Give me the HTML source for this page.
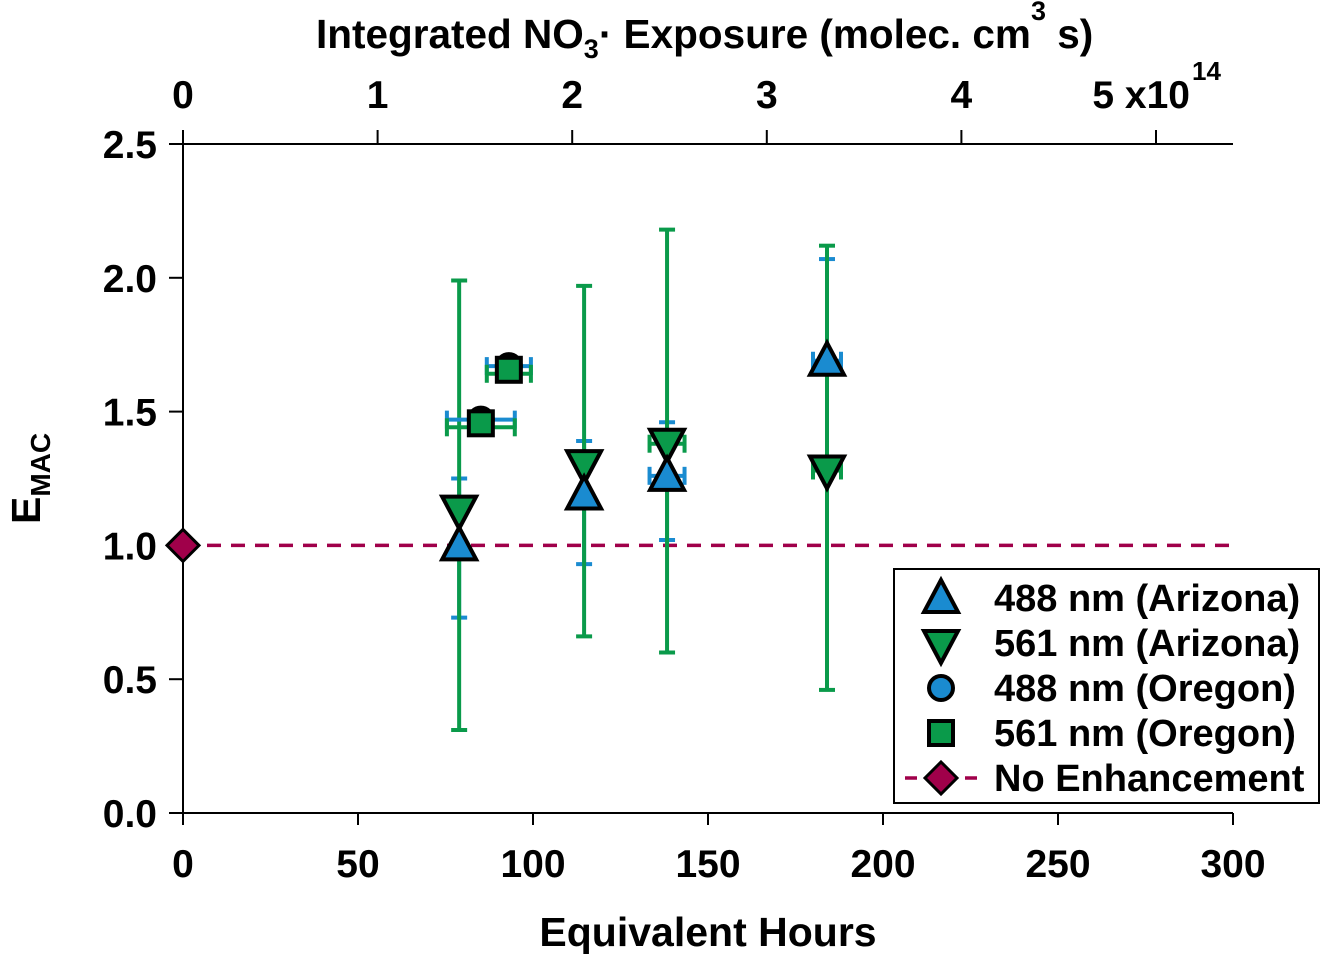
<!DOCTYPE html>
<html><head><meta charset="utf-8">
<style>
html,body{margin:0;padding:0;background:#fff;}
svg{display:block;font-family:"Liberation Sans",Arial,sans-serif;font-weight:bold;}
</style></head>
<body>
<svg id="chart" width="1321" height="954" viewBox="0 0 1321 954" xmlns="http://www.w3.org/2000/svg">
<g id="axes"></g>
<g id="marks"></g>
<g id="legend">
  <rect x="894" y="569" width="425" height="234" fill="#fff" stroke="#000" stroke-width="2"/>
</g>
</svg>
<script>
// ---- data ----
const bottomTicks = [0,50,100,150,200,250,300];
const topTicks = [0,1,2,3,4,5];
const topTickLabels = ["0","1","2","3","4","5 x10"];
const yTicks = [0,0.5,1,1.5,2,2.5];
const yTickLabels = ["0.0","0.5","1.0","1.5","2.0","2.5"];
// Arizona series
const azHours = [78.9, 114.6, 138.3, 184.0];
const az488 = [1.00, 1.19, 1.26, 1.69];
const az488Lo = [0.73, 0.93, 1.02, 1.28];
const az488Hi = [1.25, 1.39, 1.46, 2.07];
const az561 = [1.13, 1.30, 1.38, 1.28];
const az561Lo = [0.31, 0.66, 0.60, 0.46];
const az561Hi = [1.99, 1.97, 2.18, 2.12];
const azHourErr = [0, 0, 5, 4];
// Oregon series
const orHours = [85.1, 93.1];
const or488 = [1.47, 1.67];
const or561 = [1.46, 1.66];
const orHourErr = [9.7, 6.3];
// reference
const refHours = [0, 300];
const refValue = [1.0, 1.0];

const X0=183, X1=1233, Y0=813, Y1=144;
const xS = h => X0 + (h/300)*(X1-X0);
const yS = v => Y0 - (v/2.5)*(Y0-Y1);
const tS = e => X0 + e*194.6;
const NS="http://www.w3.org/2000/svg";
const BLUE="#1a8bd0", GREEN="#0a9a4a", MAROON="#a0004a";
function el(tag, attrs, parent){const e=document.createElementNS(NS,tag);for(const k in attrs)e.setAttribute(k,attrs[k]);parent.appendChild(e);return e;}
const axes=document.getElementById('axes'), marks=document.getElementById('marks'), legend=document.getElementById('legend');

let a=el('line',{x1:X0,y1:Y0,x2:X1,y2:Y0,stroke:'#000','stroke-width':2},axes);

a=el('line',{x1:X0,y1:Y1,x2:X1,y2:Y1,stroke:'#000','stroke-width':2},axes);

a=el('line',{x1:X0,y1:Y1,x2:X0,y2:Y0,stroke:'#000','stroke-width':2},axes);


bottomTicks.forEach(t=>{
  el('line',{x1:xS(t),y1:Y0,x2:xS(t),y2:Y0+12,stroke:'#000','stroke-width':2},axes);
  const tx=el('text',{x:xS(t),y:877,'text-anchor':'middle','font-size':39},axes);
  tx.textContent=t;
  
  
});
topTicks.forEach((t,i)=>{
  el('line',{x1:tS(t),y1:Y1,x2:tS(t),y2:Y1-14,stroke:'#000','stroke-width':2},axes);
  const tx=el('text',{x:tS(t),y:108,'text-anchor':'middle','font-size':39},axes);
  tx.textContent=topTickLabels[i];
  if(i===topTicks.length-1){tx.setAttribute('text-anchor','end');tx.setAttribute('x',tS(t)+34);}
  
  
});
let sup=el('text',{x:1192,y:80,'font-size':26},axes);sup.textContent='14';

yTicks.forEach((t,i)=>{
  el('line',{x1:X0,y1:yS(t),x2:X0-14,y2:yS(t),stroke:'#000','stroke-width':2},axes);
  const tx=el('text',{x:157,y:yS(t)+14,'text-anchor':'end','font-size':39},axes);
  tx.textContent=yTickLabels[i];
  
  
});
let t=el('text',{x:708,y:946,'text-anchor':'middle','font-size':41},axes);
t.textContent='Equivalent Hours';
t=el('text',{x:316,y:48,'font-size':40.5},axes);
t.innerHTML='Integrated NO<tspan font-size="27" dy="10">3</tspan><tspan dy="-10">· Exposure (molec. cm</tspan><tspan font-size="27" dy="-28">3</tspan><tspan dy="28"> s)</tspan>';

t=el('text',{transform:'translate(40,524) rotate(-90)','font-size':41},axes);
t.innerHTML='E<tspan font-size="28" dy="10">MAC</tspan>';


let rl=el('line',{x1:xS(refHours[0]),y1:yS(refValue[0]),x2:xS(refHours[1]),y2:yS(refValue[1]),stroke:MAROON,'stroke-width':3.5,'stroke-dasharray':'14,10'},marks);


function vErr(x,lo,hi,col,name){
  const g=el('g',{stroke:col,'stroke-width':4},marks);
  
  el('line',{x1:x,y1:yS(lo),x2:x,y2:yS(hi)},g);
  el('line',{x1:x-8,y1:yS(lo),x2:x+8,y2:yS(lo)},g);
  el('line',{x1:x-8,y1:yS(hi),x2:x+8,y2:yS(hi)},g);
}
function hErr(h,e,y,col,name){
  if(!e)return;
  const g=el('g',{stroke:col,'stroke-width':4},marks);
  
  el('line',{x1:xS(h-e),y1:y,x2:xS(h+e),y2:y},g);
  el('line',{x1:xS(h-e),y1:y-9,x2:xS(h-e),y2:y+9},g);
  el('line',{x1:xS(h+e),y1:y-9,x2:xS(h+e),y2:y+9},g);
}
function tri(x,y,up,col,parent){
  const w=17,h=15;
  const pts= up? `${x},${y-h-3} ${x-w},${y+h-1} ${x+w},${y+h-1}` : `${x},${y+h+3} ${x-w},${y-h+1} ${x+w},${y-h+1}`;
  return el('polygon',{points:pts,fill:col,stroke:'#000','stroke-width':4,'stroke-linejoin':'miter'},parent);
}
azHours.forEach((h,i)=>{
  vErr(xS(h),az488Lo[i],az488Hi[i],BLUE,'err-488-az');
  hErr(h,azHourErr[i],yS(az488[i]),BLUE,'herr-488-az');
});
azHours.forEach((h,i)=>{
  vErr(xS(h),az561Lo[i],az561Hi[i],GREEN,'err-561-az');
  hErr(h,azHourErr[i],yS(az561[i]),GREEN,'herr-561-az');
});
orHours.forEach((h,i)=>{
  hErr(h,orHourErr[i],yS(or488[i]),BLUE,'herr-488-or');
  hErr(h,orHourErr[i],yS(or561[i])+5,GREEN,'herr-561-or');
});
azHours.forEach((h,i)=>{
  const m=tri(xS(h),yS(az561[i]),false,GREEN,marks);
  
});
azHours.forEach((h,i)=>{
  const m=tri(xS(h),yS(az488[i]),true,BLUE,marks);
  
});
orHours.forEach((h,i)=>{
  const c=el('circle',{cx:xS(h),cy:yS(or488[i]),r:12,fill:BLUE,stroke:'#000','stroke-width':4},marks);
  
  const s=el('rect',{x:xS(h)-12,y:yS(or561[i])-11,width:24,height:24,fill:GREEN,stroke:'#000','stroke-width':4},marks);
  
});
let d=el('polygon',{points:`${xS(0)},${yS(1)-16} ${xS(0)+16},${yS(1)} ${xS(0)},${yS(1)+16} ${xS(0)-16},${yS(1)}`,fill:MAROON,stroke:'#000','stroke-width':3},marks);


const legLabels=["488 nm (Arizona)","561 nm (Arizona)","488 nm (Oregon)","561 nm (Oregon)","No Enhancement"];
legLabels.forEach((lab,i)=>{
  const y=598+i*45, cx=941;
  const g=el('g',{},legend);
  
  if(i===0) tri(cx,y,true,BLUE,g);
  if(i===1) tri(cx,y+2,false,GREEN,g);
  if(i===2) el('circle',{cx:cx,cy:y,r:12,fill:BLUE,stroke:'#000','stroke-width':4},g);
  if(i===3) el('rect',{x:cx-12,y:y-12,width:24,height:24,fill:GREEN,stroke:'#000','stroke-width':4},g);
  if(i===4){
    el('line',{x1:905,y1:y,x2:978,y2:y,stroke:MAROON,'stroke-width':3.5,'stroke-dasharray':'12,8'},g);
    el('polygon',{points:`${cx},${y-16} ${cx+16},${y} ${cx},${y+16} ${cx-16},${y}`,fill:MAROON,stroke:'#000','stroke-width':3},g);
  }
  const tx=el('text',{x:994,y:y+13,'font-size':38},g);
  tx.textContent=lab;
});
</script>
</body></html>
